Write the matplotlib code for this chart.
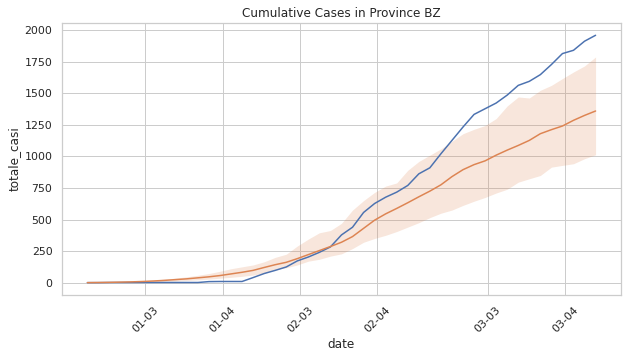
import numpy as np
import pandas as pd
import matplotlib
matplotlib.use("Agg")
import matplotlib.pyplot as plt
import seaborn as sns

# daily data, Feb 24 -> Apr 10 2020 (18:00 timestamps)
dates = pd.date_range("2020-02-24 18:00", periods=47, freq="D")

bz_cases = [0, 0, 1, 1, 1, 1, 1, 1, 1, 1,
            1, 8, 9, 9, 9, 40, 72, 97, 124, 172,
            203, 240, 283, 378, 439, 556, 627, 677, 717, 770,
            862, 910, 1021, 1127, 1233, 1333, 1378, 1423, 1486, 1563,
            1595, 1648, 1728, 1815, 1841, 1913, 1960]

mean_cases = [0, 1, 2, 4, 6, 9, 13, 18, 24, 30,
              38, 46, 56, 69, 82, 97, 120, 142, 161, 190,
              222, 254, 286, 320, 365, 430, 495, 545, 588, 633,
              680, 725, 775, 840, 895, 935, 965, 1010, 1050, 1087,
              1127, 1180, 1212, 1241, 1286, 1325, 1360]

ci_upper = [0, 2, 3, 6, 9, 14, 20, 27, 36, 46,
            58, 72, 90, 110, 125, 140, 165, 200, 225, 290,
            345, 395, 413, 470, 575, 650, 715, 765, 790, 890,
            960, 1010, 1060, 1120, 1180, 1215, 1245, 1300, 1400, 1471,
            1463, 1524, 1563, 1617, 1669, 1717, 1788]

ci_lower = [0, 0, 1, 2, 3, 5, 7, 10, 13, 17,
            22, 28, 35, 42, 50, 60, 75, 105, 118, 140,
            170, 185, 210, 228, 270, 320, 350, 375, 405, 440,
            475, 515, 550, 575, 612, 645, 675, 710, 740, 796,
            823, 849, 915, 929, 942, 982, 1013]

tick_dates = pd.to_datetime(["2020-03-01", "2020-03-08", "2020-03-15",
                             "2020-03-22", "2020-04-01", "2020-04-08"])
tick_labels = ["01-03", "01-04", "02-03", "02-04", "03-03", "03-04"]

sns.set_theme(style="whitegrid")
pal = sns.color_palette("deep")

fig, ax = plt.subplots(figsize=(626 / 72, 358 / 72), dpi=72)
fig.subplots_adjust(left=0.099, right=0.992, top=0.936, bottom=0.176)

ax.plot(dates, bz_cases, color=pal[0], lw=1.5)
ax.plot(dates, mean_cases, color=pal[1], lw=1.5)
ax.fill_between(dates, ci_lower, ci_upper, color=pal[1], alpha=0.2, lw=0)

ax.set_xticks(tick_dates)
ax.set_xticklabels(tick_labels, rotation=45)
ax.set_xlabel("date")
ax.set_ylabel("totale_casi")
ax.set_title("Cumulative Cases in Province BZ")

fig.savefig("out.png", dpi=72)
